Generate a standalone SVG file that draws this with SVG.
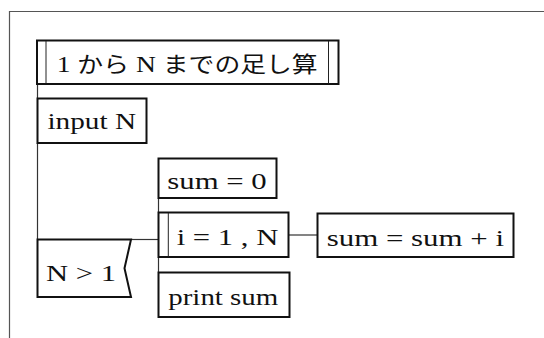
<svg xmlns="http://www.w3.org/2000/svg" width="544" height="338" viewBox="0 0 544 338">
<style>
.box{fill:#fff;stroke:#111;stroke-width:2}
.thin{fill:none;stroke:#222;stroke-width:1}
.ln{fill:none;stroke:#333;stroke-width:1.2}
.frame{fill:none;stroke:#555;stroke-width:1.2}
.t{font-family:"Liberation Serif","Times New Roman",serif;font-size:23.5px;fill:#111}
.j{font-family:"Noto Sans CJK JP","Noto Sans",sans-serif;font-size:22px}
</style>
<rect width="544" height="338" fill="#fff"/>
<path class="frame" d="M9.5 338 V11.5 H544"/>
<g id="connectors">
<path class="ln" d="M37.5 84 V98"/>
<path class="ln" d="M37.5 143 V239"/>
<path class="ln" d="M131 239.5 H158.5"/>
<path class="ln" d="M158.5 198 V212.5"/>
<path class="ln" d="M158.5 257 V272.5"/>
<path class="ln" d="M288.5 235 H317.5"/>
</g>
<g id="title">
<rect class="box" x="37" y="40.5" width="301.5" height="43.5"/>
<path class="thin" d="M46 41 V83.5 M328.5 41 V83.5"/>
<text class="t" x="56.7" y="72" textLength="261" lengthAdjust="spacingAndGlyphs">1 <tspan class="j">から</tspan> N <tspan class="j">までの足し算</tspan></text>
</g>
<g id="input">
<rect class="box" x="37.5" y="98.5" width="109" height="44.5"/>
<text class="t" x="47.5" y="129.3" textLength="88.5" lengthAdjust="spacingAndGlyphs">input N</text>
</g>
<g id="cond">
<path class="box" d="M37.5 239.5 H131 L124.5 268.3 L131 297 H37.5 Z"/>
<text class="t" x="46" y="280.5" textLength="70" lengthAdjust="spacingAndGlyphs">N &gt; 1</text>
</g>
<g id="init">
<rect class="box" x="158.5" y="158.5" width="118" height="39.5"/>
<text class="t" x="167.3" y="189.3" textLength="99.4" lengthAdjust="spacingAndGlyphs">sum = 0</text>
</g>
<g id="loop">
<rect class="box" x="158.5" y="212.5" width="130" height="44.5"/>
<path class="thin" d="M168.3 213 V256.5"/>
<text class="t" x="176.7" y="245" textLength="101.6" lengthAdjust="spacingAndGlyphs">i = 1 , N</text>
</g>
<g id="body">
<rect class="box" x="317.5" y="213.5" width="196" height="43.5"/>
<text class="t" x="326.7" y="245.5" textLength="177.3" lengthAdjust="spacingAndGlyphs">sum = sum + i</text>
</g>
<g id="print">
<rect class="box" x="158.5" y="272.5" width="131" height="44.5"/>
<text class="t" x="168.3" y="305" textLength="110" lengthAdjust="spacingAndGlyphs">print sum</text>
</g>
</svg>
